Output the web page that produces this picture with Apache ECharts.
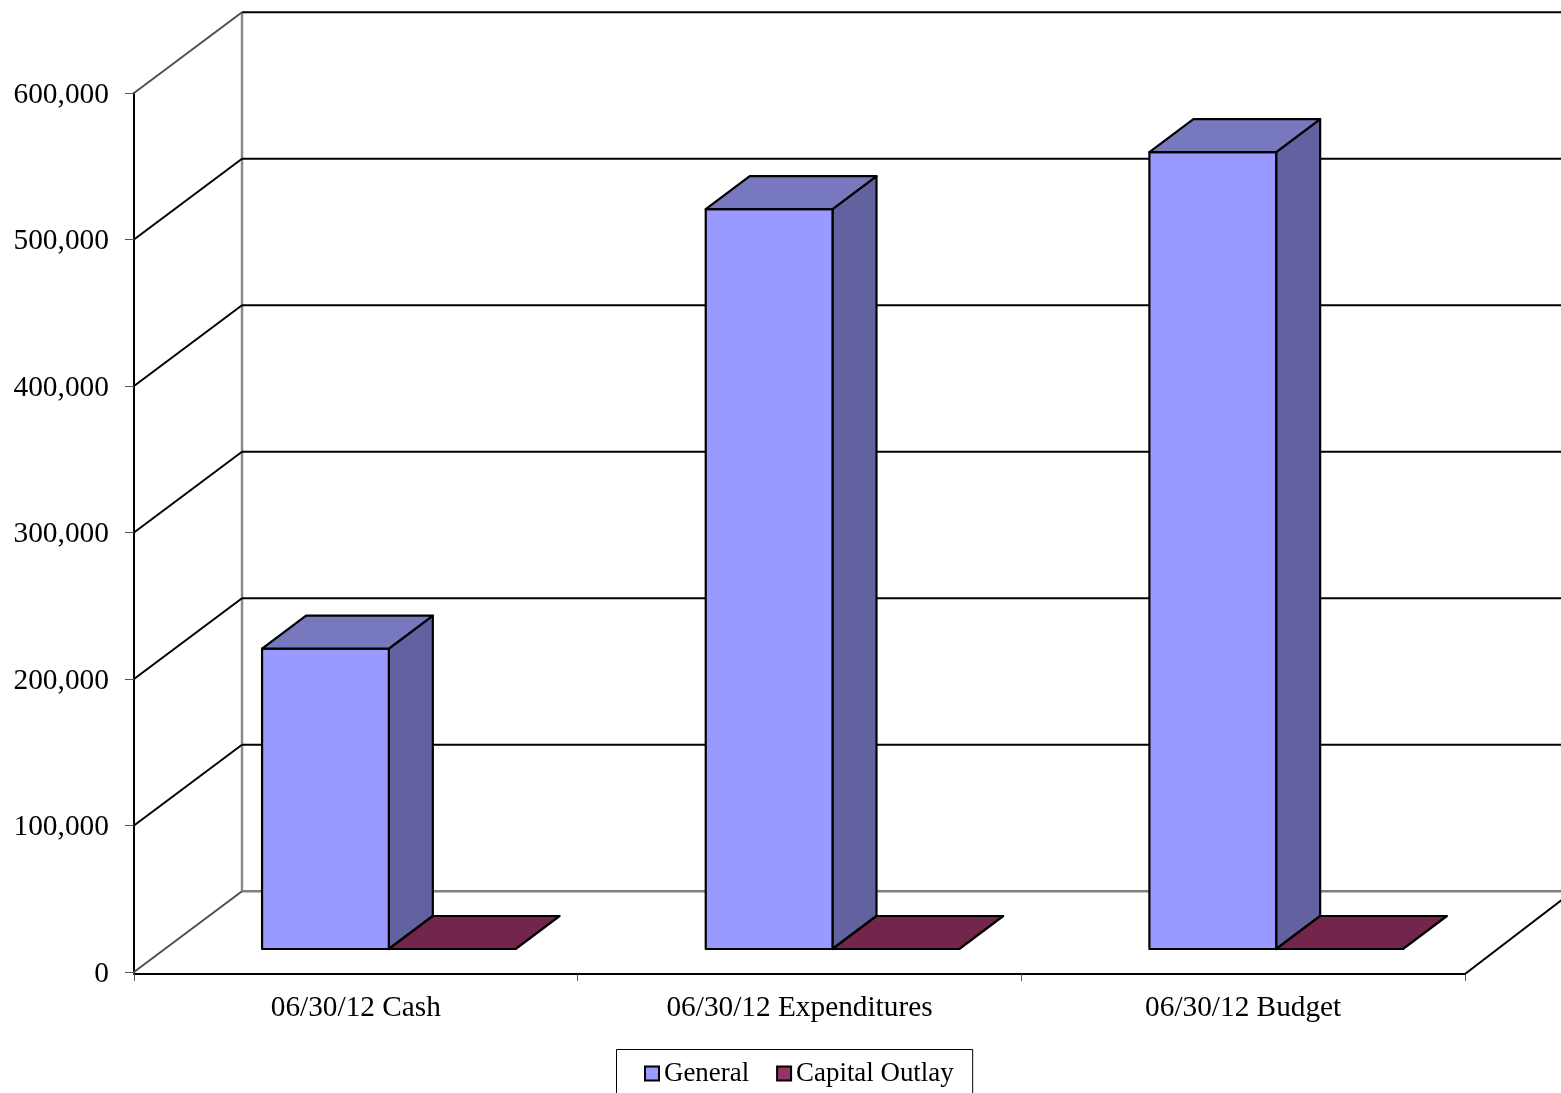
<!DOCTYPE html>
<html>
<head>
<meta charset="utf-8">
<style>html,body{margin:0;padding:0;background:#fff;overflow:hidden}#c{width:1561px;height:1093px}</style>
<script src="https://cdn.jsdelivr.net/npm/echarts@6/dist/echarts.min.js"></script>
</head>
<body>
<div id="c"></div>
<script>
const categories = ['06/30/12 Cash', '06/30/12 Expenditures', '06/30/12 Budget'];
const generalValues = [205000, 505000, 544000];
const capitalValues = [0, 0, 0];
const tickValues = [0, 100000, 200000, 300000, 400000, 500000, 600000];
const seriesNames = ['General', 'Capital Outlay'];

const FONT = '"Liberation Serif", "Times New Roman", serif';
const WALL = { dx: 108, dy: -80.7 };
const BAR_DEPTH = { dx: 44, dy: -33 };
const BAR_FRONT = { dx: 33, dy: -23 };
const BAR_SHARE = 2 / 7;

const chart = echarts.init(document.getElementById('c'), null, { renderer: 'canvas' });

function line(points, color, width) {
  return { type: 'polyline', shape: { points }, style: { stroke: color, lineWidth: width, fill: null } };
}

function renderWall(params, api) {
  const v = api.value(1);
  const grid = params.coordSys;
  const y = api.coord([0, v])[1];
  const x0 = grid.x, x1 = grid.x + grid.width;
  const isFloor = v === 0;
  const children = [];
  const color = isFloor ? '#808080' : '#000000';
  if (isFloor) {
    const topY = api.coord([0, tickValues[tickValues.length - 1]])[1];
    children.push(line([[x0 + WALL.dx, topY + WALL.dy], [x0 + WALL.dx, y + WALL.dy]], '#8a8a8a', 2.5));
    children.push(line([[x1, y + 2], [x1 + WALL.dx, y + WALL.dy]], '#000000', 2));
  }
  children.push(line([[x0 + WALL.dx, y + WALL.dy], [x1 + WALL.dx, y + WALL.dy]], color, isFloor ? 2.5 : 2));
  const isTop = v === tickValues[tickValues.length - 1];
  children.push(line([[x0, y], [x0 + WALL.dx, y + WALL.dy]], (isFloor || isTop) ? '#505050' : '#000000', 2));
  return { type: 'group', children };
}

function makeBarRenderer(side, front, top, sideColor) {
  return function (params, api) {
    const cat = api.value(0);
    const val = api.value(1);
    const base = api.coord([cat, 0]);
    const head = api.coord([cat, val]);
    const w = api.size([1, 0])[0] * BAR_SHARE;
    const xL = base[0] + (side === 0 ? -w : 0) + BAR_FRONT.dx;
    const xR = xL + w;
    const yB = base[1] + BAR_FRONT.dy;
    const yT = head[1] + BAR_FRONT.dy;
    const d = BAR_DEPTH;
    const st = { stroke: '#000', lineWidth: 2.2, lineJoin: 'round' };
    const children = [];
    if (yB - yT > 0.5) {
      children.push({ type: 'polygon', shape: { points: [[xR, yT], [xR + d.dx, yT + d.dy], [xR + d.dx, yB + d.dy], [xR, yB]] }, style: { ...st, fill: sideColor } });
      children.push({ type: 'polygon', shape: { points: [[xL, yT], [xR, yT], [xR, yB], [xL, yB]] }, style: { ...st, fill: front } });
    }
    children.push({ type: 'polygon', shape: { points: [[xL, yT], [xL + d.dx, yT + d.dy], [xR + d.dx, yT + d.dy], [xR, yT]] }, style: { ...st, fill: top } });
    return { type: 'group', children };
  };
}

const option = {
  animation: false,
  backgroundColor: '#ffffff',
  textStyle: { fontFamily: FONT },
  grid: { left: 134, right: 96, top: 93, bottom: 121, containLabel: false },
  xAxis: {
    type: 'category',
    data: categories,
    offset: 2,
    axisLine: { show: true, onZero: false, lineStyle: { color: '#000', width: 2 } },
    axisTick: { show: true, length: 7, lineStyle: { color: '#555', width: 1 } },
    axisLabel: { color: '#000', fontFamily: FONT, fontSize: 29.3, margin: 20 },
    splitLine: { show: false }
  },
  yAxis: {
    type: 'value',
    min: 0,
    max: 600000,
    interval: 100000,
    axisLine: { show: true, lineStyle: { color: '#000', width: 2 } },
    axisTick: { show: true, length: 9, lineStyle: { color: '#555', width: 1 } },
    axisLabel: {
      color: '#000', fontFamily: FONT, fontSize: 29.4, margin: 25,
      formatter: v => '{a|' + v.toLocaleString('en-US') + '}',
      rich: { a: { color: '#000', fontFamily: FONT, fontSize: 29.4, padding: [4, 0, 0, 0] } }
    },
    splitLine: { show: false }
  },
  legend: {
    data: seriesNames,
    selectedMode: false,
    left: 616.5,
    top: 1049.5,
    orient: 'horizontal',
    icon: 'rect',
    itemWidth: 14,
    itemHeight: 14,
    itemGap: 27,
    padding: [10.5, 19, 30, 27.5],
    borderColor: '#000',
    borderWidth: 1,
    backgroundColor: '#fff',
    textStyle: { color: '#000', fontFamily: FONT, fontSize: 26.9 },
    itemStyle: { borderColor: '#000', borderWidth: 2 }
  },
  series: [
    {
      type: 'custom',
      name: 'walls',
      silent: true,
      z: 1,
      renderItem: renderWall,
      data: tickValues.map(v => [0, v]),
      encode: { x: 0, y: 1 }
    },
    {
      type: 'custom',
      name: seriesNames[0],
      z: 2,
      itemStyle: { color: '#9999FF' },
      renderItem: makeBarRenderer(0, '#9999FF', '#7878BF', '#6262A0'),
      data: generalValues.map((v, i) => [i, v]),
      encode: { x: 0, y: 1 }
    },
    {
      type: 'custom',
      name: seriesNames[1],
      z: 3,
      itemStyle: { color: '#993366' },
      renderItem: makeBarRenderer(1, '#993366', '#73264C', '#602040'),
      data: capitalValues.map((v, i) => [i, v]),
      encode: { x: 0, y: 1 }
    }
  ]
};
chart.setOption(option);
</script>
</body>
</html>
